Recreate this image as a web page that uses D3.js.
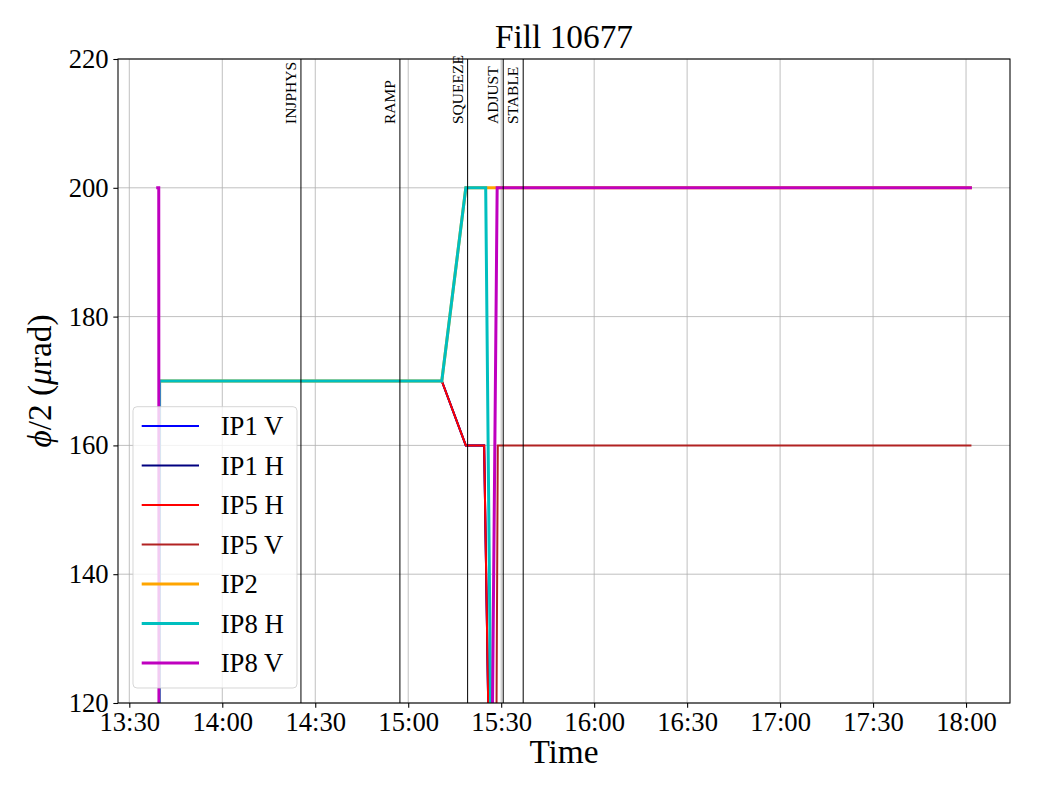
<!DOCTYPE html>
<html><head><meta charset="utf-8">
<script src="https://cdn.jsdelivr.net/npm/d3@7"></script>
<style>
body{margin:0;background:#fff}
svg{display:block}
text{font-family:"Liberation Serif","Times New Roman",Times,serif;fill:#000}
</style>
</head><body>
<svg id="chart" width="1040" height="800"></svg>
<script>
// ---------------- data ----------------
const seriesNames  = ["IP1 V", "IP1 H", "IP5 H", "IP5 V", "IP2", "IP8 H", "IP8 V"];
const seriesColors = ["#0000ff", "#000080", "#ff0000", "#b22222", "#ffa500", "#00bfbf", "#bf00bf"];
const seriesWidths = [2, 2, 2, 2, 3, 3, 3];

const ip1vTimes  = ["13:39:38", "13:39:46", "15:10:50", "15:18:35", "15:24:30", "15:29:42", "18:01:25"];
const ip1vValues = [0, 170, 170, 160, 160, 0, 0];
const ip1hTimes  = ["13:39:38", "13:39:46", "15:10:50", "15:18:35", "15:24:30", "15:29:42", "18:01:25"];
const ip1hValues = [0, 170, 170, 160, 160, 0, 0];
const ip5hTimes  = ["13:39:38", "13:39:46", "15:10:50", "15:18:35", "15:24:30", "15:29:42", "18:01:25"];
const ip5hValues = [0, 170, 170, 160, 160, 0, 0];
const ip5vTimes  = ["13:39:38", "15:27:18", "15:28:54", "18:01:25"];
const ip5vValues = [0, 0, 160, 160];
const ip2Times   = ["13:39:38", "13:39:46", "15:10:50", "15:18:35", "18:01:25"];
const ip2Values  = [0, 170, 170, 200, 200];
const ip8hTimes  = ["13:39:38", "13:39:46", "15:10:50", "15:18:35", "15:25:00", "15:28:57", "18:01:25"];
const ip8hValues = [0, 170, 170, 200, 200, 0, 0];
const ip8vTimes  = ["13:39:10", "13:39:30", "13:39:40", "15:24:57", "15:28:42", "18:01:25"];
const ip8vValues = [200, 200, 0, 0, 200, 200];

const eventNames = ["INJPHYS", "RAMP", "SQUEEZE", "ADJUST", "STABLE"];
const eventTimes = ["14:25:23", "14:57:19", "15:19:10", "15:30:39", "15:37:06"];

const xTickLabels = ["13:30", "14:00", "14:30", "15:00", "15:30", "16:00", "16:30", "17:00", "17:30", "18:00"];
const yTickValues = [120, 140, 160, 180, 200, 220];
const xDomain = ["13:26:21", "18:14:11"];
const yDomain = [120, 220];

const titleText = "Fill 10677";
const xLabelText = "Time";

// ---------------- setup ----------------
const parseT = d3.timeParse("%H:%M:%S");
const parseHM = d3.timeParse("%H:%M");
const fmtHM = d3.timeFormat("%H:%M");

const seriesTimes  = [ip1vTimes, ip1hTimes, ip5hTimes, ip5vTimes, ip2Times, ip8hTimes, ip8vTimes];
const seriesValues = [ip1vValues, ip1hValues, ip5hValues, ip5vValues, ip2Values, ip8hValues, ip8vValues];
const series = seriesNames.map((name, i) => ({
  name, color: seriesColors[i], width: seriesWidths[i],
  points: seriesTimes[i].map((t, j) => ({ t: parseT(t), v: seriesValues[i][j] }))
}));

const L = 118, R = 1010, T = 59, B = 703;
const svg = d3.select("#chart");
const x = d3.scaleTime().domain(xDomain.map(parseT)).range([L, R]);
const y = d3.scaleLinear().domain(yDomain).range([B, T]);
const xTicks = xTickLabels.map(parseHM);

svg.append("defs").append("clipPath").attr("id", "clip")
  .append("rect").attr("x", L).attr("y", T).attr("width", R - L).attr("height", B - T);

// grid
const grid = svg.append("g").attr("stroke", "#b0b0b0").attr("stroke-width", 0.8);
grid.selectAll(".gx").data(xTicks).enter().append("line")
  .attr("x1", d => x(d)).attr("x2", d => x(d)).attr("y1", T).attr("y2", B);
grid.selectAll(".gy").data(yTickValues).enter().append("line")
  .attr("x1", L).attr("x2", R).attr("y1", d => y(d)).attr("y2", d => y(d));

// lines
const line = d3.line().x(d => x(d.t)).y(d => y(d.v));
const lg = svg.append("g").attr("clip-path", "url(#clip)");
series.forEach(s => {
  lg.append("path").datum(s.points).attr("d", line)
    .attr("fill", "none").attr("stroke", s.color).attr("stroke-width", s.width)
    .attr("stroke-linejoin", "miter").attr("stroke-linecap", "square");
});

// event lines
const ev = svg.append("g");
eventNames.forEach((name, i) => {
  const ex = x(parseT(eventTimes[i]));
  ev.append("line").attr("x1", ex).attr("x2", ex).attr("y1", T).attr("y2", B)
    .attr("stroke", "#000").attr("stroke-width", 1);
  ev.append("text").attr("transform", `translate(${ex - 5},124) rotate(-90)`)
    .attr("text-anchor", "start").style("font-size", "15.5px").text(name);
});

// axes
const xAxis = d3.axisBottom(x).tickValues(xTicks).tickFormat(fmtHM).tickSize(4.67).tickPadding(4.67);
const yAxis = d3.axisLeft(y).tickValues(yTickValues).tickFormat(d3.format("d")).tickSize(4.67).tickPadding(4.67);
const gx = svg.append("g").attr("transform", `translate(0,${B})`).call(xAxis);
const gy = svg.append("g").attr("transform", `translate(${L},0)`).call(yAxis);
[gx, gy].forEach(g => {
  g.select(".domain").remove();
  g.selectAll(".tick line").attr("stroke", "#000").attr("stroke-width", 1.07);
  g.selectAll(".tick text").style("font-size", "26.67px").attr("fill", "#000")
    .style("font-family", '"Liberation Serif","Times New Roman",serif');
});

// frame
svg.append("rect").attr("x", L).attr("y", T).attr("width", R - L).attr("height", B - T)
  .attr("fill", "none").attr("stroke", "#000").attr("stroke-width", 1.07);

// legend
const leg = svg.append("g");
leg.append("rect").attr("x", 133).attr("y", 406.7).attr("width", 164).attr("height", 281.3)
  .attr("rx", 4).attr("ry", 4).attr("fill", "#fff").attr("fill-opacity", 0.8)
  .attr("stroke", "#cccccc").attr("stroke-opacity", 0.8).attr("stroke-width", 1);
series.forEach((s, i) => {
  const cy = 426 + i * 39.5;
  leg.append("line").attr("x1", 141.7).attr("x2", 199).attr("y1", cy).attr("y2", cy)
    .attr("stroke", s.color).attr("stroke-width", s.width);
  leg.append("text").attr("x", 220.7).attr("y", cy + 9).style("font-size", "26.67px").text(s.name);
});

// title and labels
svg.append("text").attr("x", (L + R) / 2).attr("y", 48).attr("text-anchor", "middle")
  .style("font-size", "33.33px").text(titleText);
svg.append("text").attr("x", (L + R) / 2).attr("y", 763).attr("text-anchor", "middle")
  .style("font-size", "33.33px").text(xLabelText);
const yl = svg.append("text").attr("transform", `translate(51,${(T + B) / 2}) rotate(-90)`)
  .attr("text-anchor", "middle").style("font-size", "33.33px");
yl.append("tspan").style("font-style", "italic").text("\u03D5");
yl.append("tspan").text("/2 (");
yl.append("tspan").style("font-style", "italic").text("\u03BC");
yl.append("tspan").text("rad)");
</script>
</body></html>
